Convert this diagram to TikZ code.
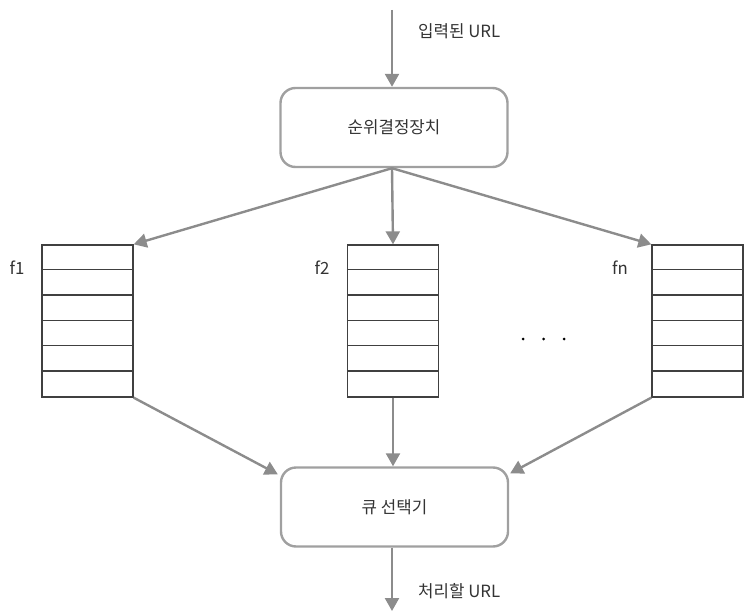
\documentclass[tikz,border=0pt]{standalone}
\usepackage{fontspec}
\setmainfont{Noto Sans CJK KR}
\usetikzlibrary{arrows.meta,calc}
\definecolor{arrgray}{HTML}{8C8C8C}
\definecolor{boxgray}{HTML}{A0A0A0}
\definecolor{qgray}{HTML}{404040}
\definecolor{txtgray}{HTML}{333333}
\begin{document}
\begin{tikzpicture}[x=1pt,y=-1pt,
  flow/.style={draw=arrgray,line width=2.4pt,-{Triangle[length=13pt,width=14pt]}},
  procbox/.style={draw=boxgray,line width=2.4pt,rounded corners=15pt,minimum width=227pt,minimum height=79pt,inner sep=0pt,text=txtgray,font=\fontsize{16.8}{18}\selectfont},
  queue/.style={draw=qgray,line width=1.3pt,minimum width=91pt,minimum height=152pt,inner sep=0pt},
  lbl/.style={font=\fontsize{16.8}{18}\selectfont,text=txtgray,inner sep=0pt},
  dotmark/.style={fill=black,circle,inner sep=0pt,minimum size=3pt}]
\useasboundingbox (0,0) rectangle (752,615);
\coordinate (in) at (392,10);
\coordinate (out) at (392,611);
\node[procbox] (prio) at (394,127.5) {순위결정장치};
\node[procbox] (sel) at (394.5,507) {큐 선택기};
\node[lbl,anchor=west] (inlbl) at (418,31) {입력된 URL};
\node[lbl,anchor=west] (outlbl) at (418,591) {처리할 URL};
% queues
\foreach \q/\x in {qa/87.5,qb/393,qc/697.5}{
  \node[queue] (\q) at (\x,321) {};
  \foreach \i in {1,...,5}{
    \draw[qgray,line width=1.3pt] ($(\q.north west)+(0,{\i*25.33})$) -- ($(\q.north east)+(0,{\i*25.33})$);
  }
}
\node[lbl] (f1) at (17,268) {f1};
\node[lbl] (f2) at (322,268) {f2};
\node[lbl] (fn) at (620,268) {fn};
\node[dotmark] (d1) at (523,339) {};
\node[dotmark] (d2) at (543.5,339) {};
\node[dotmark] (d3) at (564,339) {};
% connectors
\draw[flow] (in) -- (prio.north -| in);
\coordinate (pb) at (prio.south -| in);
\draw[flow] (pb) -- (qa.north east);
\draw[flow] (pb) -- (qb.north);
\draw[flow] (pb) -- (qc.north west);
\draw[flow] (qa.south east) -- ($(sel.north west)+(-2,8)$);
\draw[flow] (qb.south) -- (sel.north -| qb.south);
\draw[flow] (qc.south west) -- ($(sel.north east)+(1,7)$);
\draw[flow] (sel.south -| in) -- (out);
\end{tikzpicture}
\end{document}
